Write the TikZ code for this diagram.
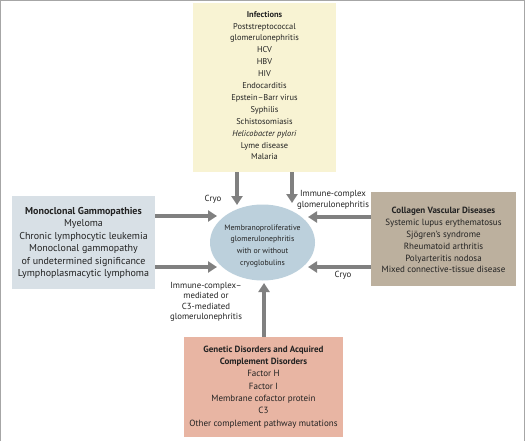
\documentclass[tikz,border=0pt]{standalone}
\usepackage{fontspec}
\setmainfont{PT Sans}
\usetikzlibrary{arrows.meta,shapes.geometric}
\definecolor{infc}{HTML}{F8F3D3}
\definecolor{monoc}{HTML}{D8E0E6}
\definecolor{collc}{HTML}{BCB09E}
\definecolor{genc}{HTML}{E8B5A3}
\definecolor{ellc}{HTML}{BCD0DC}
\definecolor{arrc}{HTML}{808080}
\definecolor{txtc}{HTML}{222222}
\tikzset{
  box/.style={draw=none,inner sep=0pt,align=center,text=txtc},
  arr/.style={draw=arrc,line width=4.5pt,-{Triangle[width=11pt,length=9pt]}},
  lbl/.style={align=center,text=txtc,inner sep=0pt,font=\fontsize{8.8}{10.4}\selectfont},
}
\begin{document}
\begin{tikzpicture}[x=1pt,y=-1pt]
\useasboundingbox (0,0) rectangle (526,441);
\fill[white] (0,0) rectangle (526,441);
\draw[gray!70,line width=1.2pt] (0.6,441) -- (0.6,0.6) -- (524.4,0.6) -- (524.4,441);
% boxes
\node[box,fill=infc,minimum width=143pt,minimum height=169pt] (inf) at (264.5,87.5) {};
\node[box,anchor=north,font=\fontsize{8.4}{11.9}\selectfont] (inftxt) at (264.5,11) {\textbf{Infections}\\Poststreptococcal\\glomerulonephritis\\HCV\\HBV\\HIV\\Endocarditis\\Epstein--Barr virus\\Syphilis\\Schistosomiasis\\\textit{Helicobacter pylori}\\Lyme disease\\Malaria};
\node[box,fill=monoc,minimum width=143pt,minimum height=93pt] (mono) at (83.5,242.5) {};
\node[box,font=\fontsize{10}{12.4}\selectfont] (monotxt) at (83.5,243) {\textbf{Monoclonal Gammopathies}\\Myeloma\\Chronic lymphocytic leukemia\\Monoclonal gammopathy\\of undetermined significance\\Lymphoplasmacytic lymphoma};
\node[box,fill=collc,minimum width=145pt,minimum height=94pt] (coll) at (443.5,239) {};
\node[box,font=\fontsize{9}{11.9}\selectfont] (colltxt) at (443.5,240) {\textbf{Collagen Vascular Diseases}\\Systemic lupus erythematosus\\Sjögren's syndrome\\Rheumatoid arthritis\\Polyarteritis nodosa\\Mixed connective-tissue disease};
\node[box,fill=genc,minimum width=159pt,minimum height=100pt] (gen) at (263.5,387) {};
\node[box,font=\fontsize{9}{12.3}\selectfont] (gentxt) at (263.5,387) {\textbf{Genetic Disorders and Acquired}\\\textbf{Complement Disorders}\\Factor H\\Factor I\\Membrane cofactor protein\\C3\\Other complement pathway mutations};
% ellipse
\node[ellipse,fill=ellc,minimum width=105pt,minimum height=76pt,inner sep=0pt] (ell) at (262.5,242.5) {};
\node[box,font=\fontsize{7.8}{11.9}\selectfont] (elltxt) at (262.5,246) {Membranoproliferative\\glomerulonephritis\\with or without\\cryoglobulins};
% tip coordinates
\coordinate (t1) at (237,205);
\coordinate (t2) at (292,203);
\coordinate (t3) at (217,216);
\coordinate (t4) at (217,267);
\coordinate (t5) at (308,217);
\coordinate (t6) at (308,267);
\coordinate (t7) at (264,283);
% arrows
\draw[arr] (inf.south -| t1) -- (t1);
\draw[arr] (inf.south -| t2) -- (t2);
\draw[arr] (mono.east |- t3) -- (t3);
\draw[arr] (mono.east |- t4) -- (t4);
\draw[arr] (coll.west |- t5) -- (t5);
\draw[arr] (coll.west |- t6) -- (t6);
\draw[arr] (gen.north -| t7) -- (t7);
% labels
\node[lbl] (l1) at (213,199) {Cryo};
\node[lbl] (l2) at (333,200) {Immune-complex\\glomerulonephritis};
\node[lbl] (l3) at (343,275) {Cryo};
\node[lbl] (l4) at (206,302) {Immune-complex--\\mediated or\\C3-mediated\\glomerulonephritis};
\end{tikzpicture}
\end{document}
